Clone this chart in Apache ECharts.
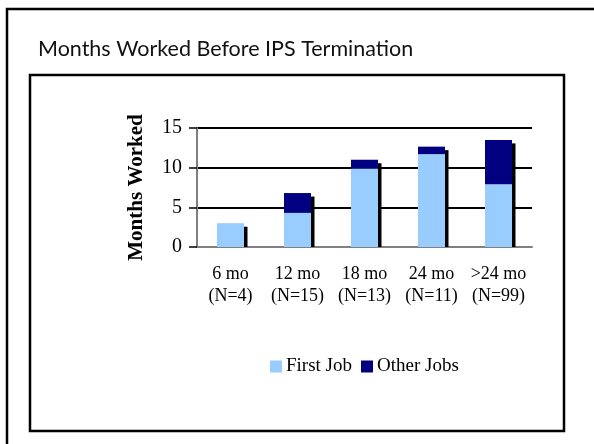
<!DOCTYPE html>
<html>
<head>
<meta charset="utf-8">
<script src="https://cdn.jsdelivr.net/npm/echarts@6/dist/echarts.min.js"></script>
<style>
  html, body { margin: 0; padding: 0; background: #fff; }
  #chart { width: 594px; height: 444px; }
</style>
</head>
<body>
<div id="chart"></div>
<script>
// data
const categories = ['6 mo', '12 mo', '18 mo', '24 mo', '>24 mo'];
const sampleSizes = [4, 15, 13, 11, 99];
const firstJob = [3.0, 4.3, 9.9, 11.7, 7.9];
const otherJobs = [0, 2.5, 1.1, 0.95, 5.6];
const yTicks = [0, 5, 10, 15];

const totals = firstJob.map((v, i) => [i, v + otherJobs[i]]);
const serif = 'Liberation Serif';
const BAR_W = 27;

let chart = echarts.init(document.getElementById('chart'));

let option = {
  animation: false,
  title: {
    text: 'Months Worked Before IPS Termination',
    left: 33,
    top: 33,
    textStyle: { fontFamily: 'Lato', fontWeight: 'normal', fontSize: 21.5, color: '#111' }
  },
  graphic: [
    // outer frame (right and bottom fall outside the picture)
    { type: 'rect', shape: { x: 7, y: 9, width: 620, height: 460 }, style: { fill: 'none', stroke: '#000', lineWidth: 2.5 }, z: 0 },
    // inner chart box
    { type: 'rect', shape: { x: 30, y: 75, width: 534, height: 356 }, style: { fill: 'none', stroke: '#000', lineWidth: 2.5 }, z: 0 }
  ],
  grid: { left: 197, right: 62, top: 128, bottom: 197 },
  legend: {
    data: ['First Job', 'Other Jobs'],
    left: 265,
    top: 352,
    itemWidth: 12,
    itemHeight: 12,
    itemGap: 9,
    icon: 'rect',
    textStyle: { fontFamily: serif, fontSize: 19, color: '#000', padding: [0, 0, 0, -1] }
  },
  xAxis: {
    type: 'category',
    data: categories,
    axisLine: { lineStyle: { color: '#808080', width: 2 } },
    axisTick: { length: 6, lineStyle: { color: '#808080', width: 1.5 } },
    axisLabel: {
      interval: 0,
      margin: 16,
      fontFamily: serif,
      fontSize: 18,
      lineHeight: 22,
      color: '#000',
      formatter: (v, i) => v + '\n(N=' + sampleSizes[i] + ')'
    }
  },
  yAxis: {
    type: 'value',
    min: yTicks[0],
    max: yTicks[yTicks.length - 1],
    interval: 5,
    name: 'Months Worked',
    nameLocation: 'middle',
    nameGap: 50,
    nameTextStyle: { fontFamily: serif, fontSize: 21, fontWeight: 'bold', color: '#000' },
    axisLine: { show: true, lineStyle: { color: '#808080', width: 2 } },
    axisTick: { show: true, length: 8, lineStyle: { color: '#000', width: 1.5 } },
    axisLabel: { margin: 15, fontFamily: serif, fontSize: 20, color: '#000' },
    splitLine: { lineStyle: { color: '#000', width: 2 } }
  },
  series: [
    {
      name: 'First Job',
      type: 'bar',
      stack: 'jobs',
      barWidth: BAR_W,
      itemStyle: { color: '#99CCFF' },
      data: firstJob,
      z: 3
    },
    {
      name: 'Other Jobs',
      type: 'bar',
      stack: 'jobs',
      barWidth: BAR_W,
      itemStyle: { color: '#000080' },
      data: otherJobs,
      z: 3
    },
    {
      // black drop shadow on the right of every column
      name: 'shadow',
      type: 'custom',
      z: 2,
      data: totals,
      renderItem: function (params, api) {
        let top = api.coord([api.value(0), api.value(1)]);
        let base = api.coord([api.value(0), 0]);
        return {
          type: 'rect',
          shape: { x: top[0] + BAR_W / 2, y: top[1] + 3.5, width: 3.5, height: base[1] - top[1] - 3.5 },
          style: { fill: '#000' }
        };
      }
    }
  ]
};

chart.setOption(option);
</script>
</body>
</html>
